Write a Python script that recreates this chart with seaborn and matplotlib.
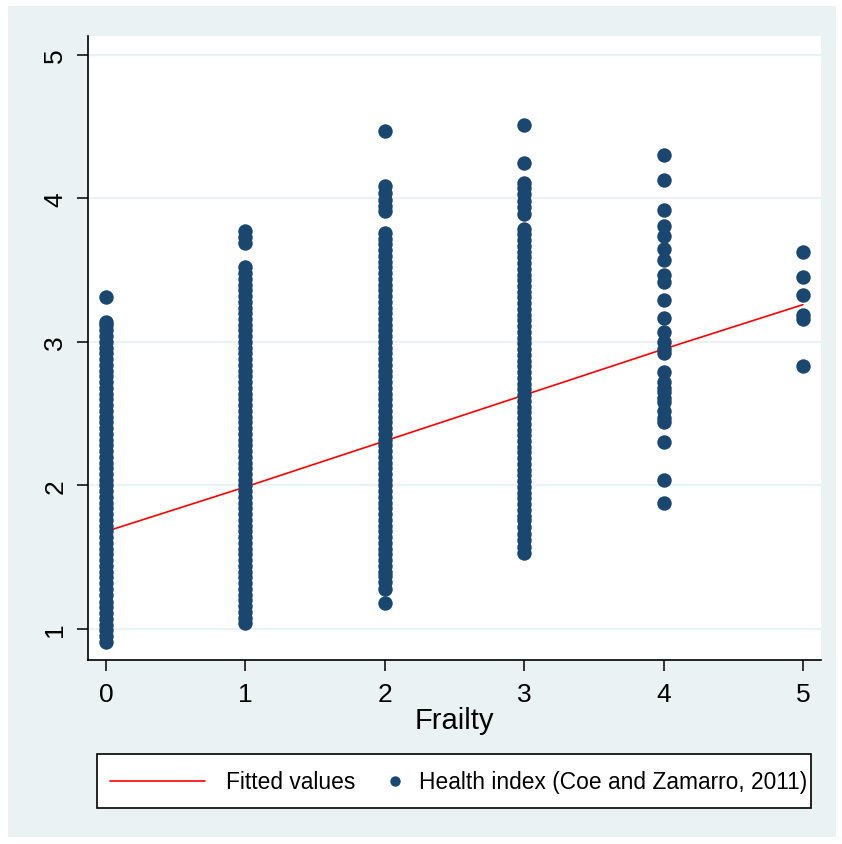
import numpy as np
import pandas as pd
import matplotlib
matplotlib.use("Agg")
import matplotlib.pyplot as plt
import seaborn as sns
from matplotlib.lines import Line2D
from matplotlib.patches import Rectangle

# ---------------- data ----------------
frailty_levels = [0, 1, 2, 3, 4, 5]

health_f0 = [3.31, 3.14, 3.12, 3.08, 3.04, 3.00, 2.96, 2.92, 2.88, 2.84, 2.80,
             2.76, 2.72, 2.68, 2.64, 2.60, 2.56, 2.52, 2.48, 2.44, 2.40, 2.36,
             2.32, 2.28, 2.24, 2.20, 2.16, 2.12, 2.08, 2.04, 2.00, 1.96, 1.92,
             1.88, 1.84, 1.80, 1.76, 1.72, 1.68, 1.64, 1.60, 1.56, 1.52, 1.48,
             1.44, 1.40, 1.36, 1.32, 1.28, 1.24, 1.19, 1.15, 1.11, 1.07, 1.03,
             0.99, 0.95, 0.91]

health_f1 = [3.77, 3.73, 3.69, 3.52, 3.48, 3.44, 3.40, 3.36, 3.32, 3.28, 3.24,
             3.20, 3.16, 3.12, 3.08, 3.04, 3.00, 2.96, 2.92, 2.88, 2.84, 2.80,
             2.76, 2.72, 2.68, 2.64, 2.60, 2.56, 2.52, 2.48, 2.44, 2.40, 2.36,
             2.32, 2.28, 2.24, 2.20, 2.16, 2.12, 2.08, 2.04, 2.00, 1.96, 1.92,
             1.88, 1.84, 1.80, 1.76, 1.72, 1.68, 1.64, 1.60, 1.56, 1.52, 1.48,
             1.44, 1.40, 1.36, 1.32, 1.28, 1.24, 1.20, 1.16, 1.12, 1.08, 1.04]

health_f2 = [4.47, 4.09, 4.04, 3.99, 3.95, 3.91, 3.76, 3.72, 3.68, 3.64, 3.60,
             3.56, 3.52, 3.48, 3.44, 3.40, 3.36, 3.32, 3.28, 3.24, 3.20, 3.16,
             3.12, 3.08, 3.04, 3.00, 2.96, 2.92, 2.88, 2.84, 2.80, 2.76, 2.72,
             2.68, 2.64, 2.60, 2.56, 2.52, 2.48, 2.44, 2.40, 2.36, 2.32, 2.28,
             2.24, 2.20, 2.16, 2.12, 2.08, 2.04, 2.00, 1.96, 1.92, 1.88, 1.84,
             1.80, 1.76, 1.72, 1.68, 1.64, 1.60, 1.56, 1.52, 1.48, 1.44, 1.40,
             1.37, 1.33, 1.28, 1.18]

health_f3 = [4.51, 4.25, 4.11, 4.07, 4.03, 3.98, 3.94, 3.89, 3.79, 3.75, 3.71,
             3.67, 3.63, 3.59, 3.55, 3.51, 3.47, 3.43, 3.39, 3.35, 3.31, 3.27,
             3.23, 3.19, 3.15, 3.11, 3.07, 3.03, 2.99, 2.95, 2.91, 2.87, 2.83,
             2.79, 2.75, 2.71, 2.67, 2.63, 2.59, 2.55, 2.51, 2.47, 2.43, 2.39,
             2.35, 2.31, 2.27, 2.23, 2.19, 2.15, 2.11, 2.07, 2.03, 1.99, 1.95,
             1.91, 1.87, 1.83, 1.79, 1.76, 1.71, 1.66, 1.62, 1.57, 1.53]

health_f4 = [4.30, 4.13, 3.92, 3.81, 3.74, 3.65, 3.57, 3.47, 3.42, 3.29, 3.17,
             3.07, 3.00, 2.95, 2.92, 2.79, 2.72, 2.68, 2.65, 2.61, 2.58, 2.52,
             2.47, 2.44, 2.30, 2.04, 1.88]

health_f5 = [3.63, 3.45, 3.33, 3.19, 3.16, 2.83]

fitted_x = [0, 1, 2, 3, 4, 5]
fitted_y = [1.68, 1.99, 2.31, 2.63, 2.95, 3.26]

x_ticks = [0, 1, 2, 3, 4, 5]
y_ticks = [1, 2, 3, 4, 5]
x_label = "Frailty"
legend_labels = ["Fitted values", "Health index (Coe and Zamarro, 2011)"]

columns = [health_f0, health_f1, health_f2, health_f3, health_f4, health_f5]
df = pd.concat(
    [pd.DataFrame({"frailty": lvl, "health": vals})
     for lvl, vals in zip(frailty_levels, columns)],
    ignore_index=True)
fit_df = pd.DataFrame({"frailty": fitted_x, "fitted": fitted_y})

# ---------------- style ----------------
sns.set_style("white")
plt.rcParams["font.family"] = ["Liberation Sans", "DejaVu Sans"]
plt.rcParams["text.color"] = "black"
plt.rcParams["axes.labelcolor"] = "black"

BG = "#EAF2F3"
NAVY = "#1A476F"
W, H = 842, 845

fig = plt.figure(figsize=(W / 100, H / 100), dpi=100)
fig.patch.set_facecolor("white")
fig.add_artist(Rectangle((8 / W, 1 - 838 / H), (836 - 8) / W, (838 - 7) / H,
                         transform=fig.transFigure, facecolor=BG,
                         edgecolor="none", zorder=-10))

ax = fig.add_axes([88 / W, 1 - 661 / H, (821 - 88) / W, (661 - 37) / H])
ax.set_facecolor("white")

sns.lineplot(data=fit_df, x="frailty", y="fitted", color="red", linewidth=1.2,
             ax=ax, zorder=2)
sns.scatterplot(data=df, x="frailty", y="health", color=NAVY, s=108,
                linewidth=0, ax=ax, zorder=3, legend=False)

ax.set_xlim(-0.13, 5.13)
ax.set_ylim(0.784, 5.132)
ax.set_xticks(x_ticks)
ax.set_yticks(y_ticks)
ax.set_xlabel(x_label, fontsize=21, labelpad=0, color="black")
ax.set_ylabel("")

ax.yaxis.grid(True, color=BG, linewidth=1.6, zorder=0)
ax.xaxis.grid(False)
ax.set_axisbelow(True)

for s in ["top", "right"]:
    ax.spines[s].set_visible(False)
for s in ["left", "bottom"]:
    ax.spines[s].set_color("black")
    ax.spines[s].set_linewidth(1.2)

ax.tick_params(axis="both", which="major", direction="out", length=8,
               width=1.1, color="black", labelsize=19, labelcolor="black",
               left=True, bottom=True)
ax.tick_params(axis="x", pad=8)
ax.tick_params(axis="y", pad=7)
for lab in ax.get_yticklabels():
    lab.set_rotation(90)
    lab.set_va("center")
    lab.set_ha("right")

# ---------------- legend ----------------
fig.add_artist(Rectangle((97 / W, 1 - 809 / H), (811 - 97) / W, (809 - 755) / H,
                         transform=fig.transFigure, facecolor="white",
                         edgecolor="black", linewidth=1.2, zorder=4))
line_handle = Line2D([], [], color="red", linewidth=1.2)
dot_handle = Line2D([], [], color=NAVY, marker="o", linestyle="none",
                    markersize=7.5, markeredgewidth=0)
leg_kw = dict(loc="center left", frameon=False, fontsize=16.4, borderpad=0,
              borderaxespad=0, labelcolor="black")
leg1 = fig.legend([line_handle], [legend_labels[0]],
                  bbox_to_anchor=(110 / W, 1 - 783 / H), handlelength=4.15,
                  handletextpad=0.95, **leg_kw)
leg1.set_zorder(5)
leg2 = fig.legend([dot_handle], [legend_labels[1]],
                  bbox_to_anchor=(388 / W, 1 - 783 / H), handlelength=0.62,
                  handletextpad=0.72, **leg_kw)
leg2.set_zorder(5)

fig.savefig("out.png", dpi=100)
